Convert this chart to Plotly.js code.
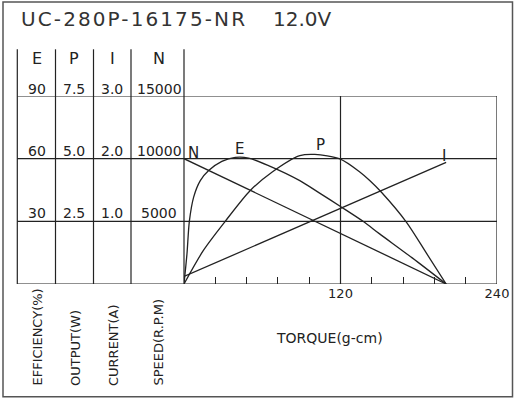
<!DOCTYPE html>
<html>
<head>
<meta charset="utf-8">
<script src="https://cdn.plot.ly/plotly-3.0.1.min.js"></script>
<style>
  body { margin: 0; background: #fff; }
  #chart { width: 516px; height: 400px; }
</style>
</head>
<body>
<div id="chart"></div>
<script>
// values (torque in g-cm)
const effTorque = [0, 2.3, 4.1, 7.4, 12.5, 18.9, 29, 39.3, 49.5, 64.8, 88.8, 104, 120, 137.3, 150, 175, 201]
const efficiency = [0, 14.6, 30, 41.6, 49.5, 54.3, 58.7, 60.6, 60.3, 56.7, 49.5, 43.5, 37.1, 30, 24, 12.5, 0]

const outTorque = [0, 15, 31.6, 50.8, 67.4, 88.8, 100.3, 119.5, 134.8, 142.4, 151.4, 170.5, 186, 201]
const output = [0, 1.35, 2.5, 3.73, 4.46, 5.12, 5.17, 4.99, 4.47, 4.13, 3.66, 2.47, 1.22, 0]

const lineTorque = [0, 201]
const current = [0.12, 1.94]
const speed = [10000, 0]

const tickTorque = [0, 24, 48, 72, 96, 120, 144, 168, 192, 216, 240]
const tickText = ['', '', '', '', '', '120', '', '', '', '', '240']

// left hand scale table
const scaleHeads = ['E', 'P', 'I', 'N']
const effScale = ['90', '60', '30']
const outScale = ['7.5', '5.0', '2.5']
const curScale = ['3.0', '2.0', '1.0']
const spdScale = ['15000', '10000', '5000']
const axisNames = ['EFFICIENCY(%)', 'OUTPUT(W)', 'CURRENT(A)', 'SPEED(R.P.M)']

const W = 516, H = 400
const ink = '#222'
const font = 'DejaVu Sans, Liberation Sans, sans-serif'
const px = x => x / W
const py = y => 1 - y / H

function label(text, x, y, size, extra) {
    return Object.assign({
        text: text, xref: 'paper', yref: 'paper', x: px(x), y: py(y),
        showarrow: false, xanchor: 'center', yanchor: 'middle',
        font: {family: font, size: size, color: ink}
    }, extra || {})
}

const line = {color: ink, width: 1.3}
const traces = [
    {x: effTorque, y: efficiency, yaxis: 'y', mode: 'lines', line: Object.assign({shape: 'spline', smoothing: 0.8}, line)},
    {x: outTorque, y: output, yaxis: 'y2', mode: 'lines', line: Object.assign({shape: 'spline', smoothing: 0.8}, line)},
    {x: lineTorque, y: current, yaxis: 'y3', mode: 'lines', line: line},
    {x: lineTorque, y: speed, yaxis: 'y4', mode: 'lines', line: line}
]

const shapes = []
// horizontal grid rows, running through the table too
;[0, 30, 60, 90].forEach(v => shapes.push({
    type: 'line', xref: 'paper', yref: 'y', x0: px(17.3), x1: px(497), y0: v, y1: v, line: {color: ink, width: 1.2}
}))
// table column dividers
;[17.3, 55.5, 93.5, 131, 184].forEach(x => shapes.push({
    type: 'line', xref: 'paper', yref: 'paper', x0: px(x), x1: px(x), y0: py(284), y1: py(49.3), line: {color: ink, width: 1.2}
}))
// vertical lines at 120 and 240
;[120, 240].forEach(t => shapes.push({
    type: 'line', xref: 'x', yref: 'y', x0: t, x1: t, y0: 0, y1: 90, line: {color: ink, width: 1.2}
}))
// outer frame
shapes.push({
    type: 'rect', xref: 'paper', yref: 'paper', x0: px(3), x1: px(512.5), y0: py(396.7), y1: py(2),
    line: {color: '#555', width: 1.5}
})

const annotations = []
annotations.push(label('UC-280P-16175-NR', 19, 19, 20, {xanchor: 'left', font: {family: font, size: 20, color: '#333'}}))
annotations.push(label('12.0V', 271, 19, 20, {xanchor: 'left', font: {family: font, size: 20, color: '#333'}}))

const colX = [37, 74, 112, 159]
scaleHeads.forEach((h, i) => annotations.push(label(h, colX[i], 58, 16)))
const rowY = [89, 151, 213]
;[effScale, outScale, curScale, spdScale].forEach((col, i) => {
    col.forEach((v, j) => annotations.push(label(v, colX[i], rowY[j], 14)))
})
const nameX = [37, 75, 113, 158]
axisNames.forEach((n, i) => annotations.push(label(n, nameX[i], 388, 13, {textangle: -90, yanchor: 'bottom'})))
annotations.push(label('TORQUE(g-cm)', 329, 338, 14))

// curve tags
annotations.push(label('N', 193, 153, 15))
annotations.push(label('E', 239, 149, 15))
annotations.push(label('P', 320, 145, 15))
annotations.push(label('I', 444, 156, 15))

const hidden = {visible: false, fixedrange: true}
const layout = {
    width: W, height: H,
    margin: {l: 0, r: 0, t: 0, b: 0},
    paper_bgcolor: '#fff', plot_bgcolor: 'rgba(0,0,0,0)',
    showlegend: false,
    xaxis: {
        domain: [px(184), px(497)], range: [0, 240],
        tickmode: 'array', tickvals: tickTorque, ticktext: tickText,
        ticks: 'inside', ticklen: 7, tickwidth: 1.2, tickcolor: ink,
        showgrid: false, zeroline: false, showline: false, fixedrange: true,
        tickfont: {family: font, size: 13, color: ink}
    },
    yaxis: Object.assign({domain: [py(284), py(96)], range: [0, 90]}, hidden),
    yaxis2: Object.assign({overlaying: 'y', range: [0, 7.5]}, hidden),
    yaxis3: Object.assign({overlaying: 'y', range: [0, 3]}, hidden),
    yaxis4: Object.assign({overlaying: 'y', range: [0, 15000]}, hidden),
    shapes: shapes,
    annotations: annotations
}

Plotly.newPlot('chart', traces, layout, {staticPlot: true, displayModeBar: false}).then(() => {
    // the drafting font on the sheet is wide, so space out the model name, keeping its left edge
    const t = document.querySelector('g.annotation[data-index="0"] text.annotation-text')
    if (!t) return
    const before = t.getBoundingClientRect().left
    t.style.letterSpacing = '2.1px'
    const after = t.getBoundingClientRect().left
    t.setAttribute('transform', `translate(${before - after},0)`)
})
</script>
</body>
</html>
